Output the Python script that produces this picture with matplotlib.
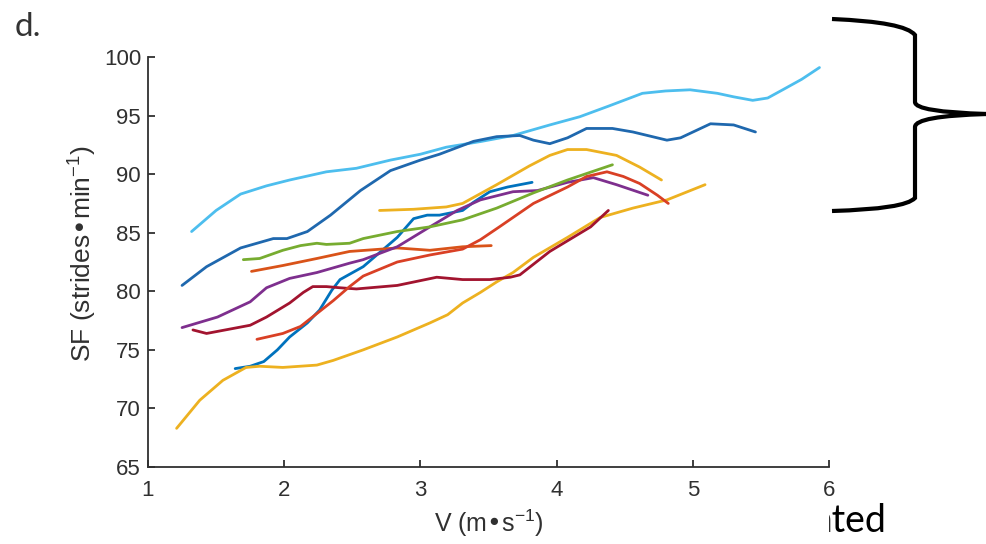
import matplotlib
matplotlib.use("Agg")
import matplotlib.pyplot as plt
from matplotlib.path import Path
from matplotlib.patches import PathPatch, Rectangle

plt.rcParams['font.family'] = ['Liberation Sans', 'DejaVu Sans']
plt.rcParams['mathtext.default'] = 'regular'

# speed (m/s) vs stride frequency (strides/min), one curve per runner
v_steep_blue = [1.64, 1.75, 1.85, 1.95, 2.04, 2.17, 2.26, 2.35, 2.41, 2.58, 2.70, 2.83, 2.95, 3.05, 3.14, 3.31, 3.39, 3.51, 3.64, 3.82]
sf_steep_blue = [73.4, 73.6, 74.0, 75.0, 76.1, 77.3, 78.4, 80.1, 81.0, 82.1, 83.3, 84.6, 86.2, 86.5, 86.5, 86.9, 87.6, 88.5, 88.9, 89.3]

v_orange = [1.76, 1.99, 2.24, 2.48, 2.83, 3.07, 3.31, 3.52]
sf_orange = [81.7, 82.2, 82.8, 83.4, 83.7, 83.5, 83.8, 83.9]

v_yellow_low = [1.21, 1.38, 1.55, 1.72, 1.82, 1.99, 2.24, 2.36, 2.58, 2.83, 3.07, 3.20, 3.31, 3.44, 3.56, 3.68, 3.83, 4.08, 4.32, 4.56, 4.81, 5.09]
sf_yellow_low = [68.3, 70.7, 72.4, 73.5, 73.6, 73.5, 73.7, 74.1, 75.0, 76.1, 77.3, 78.0, 79.0, 79.9, 80.8, 81.6, 82.9, 84.6, 86.3, 87.1, 87.8, 89.1]

v_purple = [1.25, 1.51, 1.75, 1.87, 2.04, 2.24, 2.48, 2.58, 2.83, 3.07, 3.27, 3.44, 3.68, 3.86, 4.08, 4.27, 4.44, 4.67]
sf_purple = [76.9, 77.8, 79.1, 80.3, 81.1, 81.6, 82.4, 82.7, 83.8, 85.5, 86.9, 87.8, 88.5, 88.6, 89.3, 89.7, 89.1, 88.2]

v_green = [1.70, 1.82, 1.99, 2.12, 2.24, 2.31, 2.48, 2.58, 2.83, 3.07, 3.31, 3.56, 3.83, 4.08, 4.41]
sf_green = [82.7, 82.8, 83.5, 83.9, 84.1, 84.0, 84.1, 84.5, 85.1, 85.5, 86.1, 87.1, 88.4, 89.5, 90.8]

v_cyan = [1.32, 1.50, 1.68, 1.87, 2.04, 2.31, 2.53, 2.78, 3.00, 3.19, 3.45, 3.68, 3.95, 4.17, 4.38, 4.63, 4.80, 4.98, 5.18, 5.30, 5.44, 5.55, 5.66, 5.80, 5.93]
sf_cyan = [85.1, 86.9, 88.3, 89.0, 89.5, 90.2, 90.5, 91.2, 91.7, 92.3, 92.8, 93.3, 94.2, 94.9, 95.8, 96.9, 97.1, 97.2, 96.9, 96.6, 96.3, 96.5, 97.2, 98.1, 99.1]

v_darkred = [1.33, 1.43, 1.75, 1.87, 2.04, 2.14, 2.21, 2.31, 2.41, 2.53, 2.83, 3.12, 3.31, 3.51, 3.66, 3.73, 3.95, 4.25, 4.38]
sf_darkred = [76.7, 76.4, 77.1, 77.8, 79.0, 79.9, 80.4, 80.4, 80.3, 80.2, 80.5, 81.2, 81.0, 81.0, 81.2, 81.4, 83.4, 85.5, 86.9]

v_blue = [1.25, 1.43, 1.68, 1.92, 2.02, 2.17, 2.34, 2.56, 2.78, 3.00, 3.14, 3.39, 3.56, 3.73, 3.83, 3.95, 4.08, 4.22, 4.41, 4.56, 4.81, 4.91, 5.13, 5.30, 5.46]
sf_blue = [80.5, 82.1, 83.7, 84.5, 84.5, 85.1, 86.5, 88.6, 90.3, 91.2, 91.7, 92.8, 93.2, 93.3, 92.9, 92.6, 93.1, 93.9, 93.9, 93.6, 92.9, 93.1, 94.3, 94.2, 93.6]

v_red = [1.80, 1.99, 2.12, 2.24, 2.36, 2.48, 2.58, 2.83, 3.07, 3.31, 3.44, 3.58, 3.83, 4.08, 4.22, 4.37, 4.49, 4.61, 4.74, 4.82]
sf_red = [75.9, 76.4, 77.0, 78.1, 79.2, 80.4, 81.3, 82.5, 83.1, 83.6, 84.4, 85.5, 87.5, 88.9, 89.8, 90.2, 89.8, 89.2, 88.2, 87.5]

v_yellow_up = [2.70, 2.95, 3.19, 3.31, 3.56, 3.80, 3.95, 4.08, 4.22, 4.44, 4.61, 4.77]
sf_yellow_up = [86.9, 87.0, 87.2, 87.5, 89.1, 90.7, 91.6, 92.1, 92.1, 91.6, 90.6, 89.5]

curves = [
    (v_steep_blue, sf_steep_blue, "#0072BD"),
    (v_orange, sf_orange, "#D95319"),
    (v_yellow_low, sf_yellow_low, "#EDB120"),
    (v_purple, sf_purple, "#7E2F8E"),
    (v_green, sf_green, "#77AC30"),
    (v_cyan, sf_cyan, "#4DBEEE"),
    (v_darkred, sf_darkred, "#A2142F"),
    (v_blue, sf_blue, "#1F68AE"),
    (v_red, sf_red, "#D94025"),
    (v_yellow_up, sf_yellow_up, "#EDB120"),
]

W, H = 987, 544
fig = plt.figure(figsize=(W / 100, H / 100), dpi=100)
ax = fig.add_axes([148 / W, 1 - 467 / H, (829 - 148) / W, (467 - 57) / H])

for v, sf, col in curves:
    ax.plot(v, sf, color=col, lw=2.0, solid_capstyle="round")

ax.set_xlim(1, 6)
ax.set_ylim(65, 100)
ax.set_xticks(range(1, 7))
ax.set_yticks(range(65, 101, 5))
for s in ("top", "right"):
    ax.spines[s].set_visible(False)
for s in ("left", "bottom"):
    ax.spines[s].set_color("#303030")
    ax.spines[s].set_linewidth(1.3)
ax.tick_params(direction="in", length=5, width=1.3, color="#303030",
               labelcolor="#303030", labelsize=16)
ax.tick_params(axis="x", pad=9)
ax.tick_params(axis="y", pad=5)
ax.set_xlabel("V (m•s$^{-1}$)", fontsize=18, color="#303030")
ax.set_ylabel("SF (strides•min$^{-1}$)", fontsize=19, color="#303030")
ax.xaxis.set_label_coords(0.5, -0.098)
ax.yaxis.set_label_coords(-0.072, 0.52)

fig.text(15 / W, 1 - 27 / H, "d.", fontsize=24, color="#333333", va="center",
         family=["Lato", "DejaVu Sans"])

# curly bracket on the right
px = [(832, 19), (905, 22), (915, 35), (915, 35), (915, 102), (915, 102),
      (915, 112), (987, 114), (915, 116), (915, 127), (915, 127), (915, 198),
      (915, 198), (905, 209), (832, 211)]
codes = [Path.MOVETO, Path.CURVE3, Path.CURVE3, Path.LINETO, Path.LINETO,
         Path.LINETO, Path.CURVE3, Path.CURVE3, Path.CURVE3, Path.CURVE3,
         Path.LINETO, Path.LINETO, Path.LINETO, Path.CURVE3, Path.CURVE3]
verts = [(x / W, 1 - y / H) for x, y in px]
fig.patches.append(PathPatch(Path(verts, codes), transform=fig.transFigure,
                             fill=False, lw=3, color="black"))

fig.text(814 / W, 1 - 521 / H, "ated", fontsize=27, color="black", va="center",
         family=["Lato", "DejaVu Sans"])
fig.patches.append(Rectangle((790 / W, 1 - 544 / H), 38 / W, 40 / H,
                             transform=fig.transFigure, color="white", zorder=10))

fig.savefig("out.png", dpi=100)
